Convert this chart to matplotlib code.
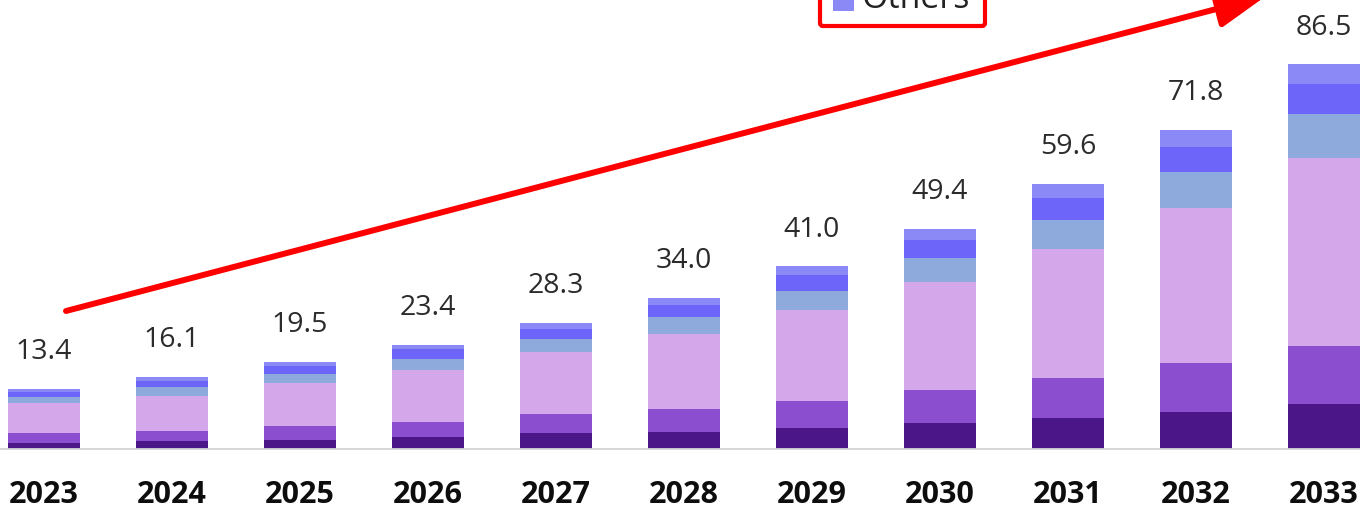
import matplotlib
matplotlib.use("Agg")
import matplotlib.pyplot as plt
from matplotlib.patches import FancyArrowPatch, FancyBboxPatch, Rectangle
import numpy as np

years = ["2023", "2024", "2025", "2026", "2027", "2028",
         "2029", "2030", "2031", "2032", "2033"]
totals = [13.4, 16.1, 19.5, 23.4, 28.3, 34.0, 41.0, 49.4, 59.6, 71.8, 86.5]

# stacked segments, bottom to top
seg_a = [1.3, 1.6, 2.0, 2.5, 3.4, 3.7, 4.7, 5.8, 6.8, 8.3, 10.1]
seg_b = [2.1, 2.3, 3.0, 3.5, 4.4, 5.3, 6.0, 7.3, 9.1, 11.0, 13.0]
seg_c = [6.9, 8.0, 9.8, 11.6, 13.9, 16.7, 20.5, 24.4, 29.0, 34.8, 42.3]
seg_d = [1.3, 1.9, 2.0, 2.5, 2.9, 4.0, 4.3, 5.3, 6.6, 8.1, 9.9]
seg_e = [1.2, 1.5, 1.8, 2.2, 2.4, 2.6, 3.6, 4.1, 4.9, 5.8, 6.7]
others = [0.6, 0.8, 0.9, 1.1, 1.3, 1.7, 1.9, 2.5, 3.2, 3.8, 4.5]

segments = [seg_a, seg_b, seg_c, seg_d, seg_e, others]
colors = ["#4b1687", "#8a4ecf", "#d4a7eb", "#8eaadc", "#6d64fa", "#8b89f6"]

W, H = 1360, 508
fig = plt.figure(figsize=(W / 100, H / 100), dpi=100)
fig.patch.set_facecolor("white")

base_px = 59.5          # baseline height from the bottom of the figure
px_per_unit = 4.44
ax = fig.add_axes([0, base_px / H, 1, 1 - base_px / H])
ax.set_ylim(0, (H - base_px) / px_per_unit)
x = np.arange(len(years))
ax.set_xlim(-44 / 128, (W - 44) / 128)

bottom = np.zeros(len(years))
for vals, col in zip(segments, colors):
    ax.bar(x, vals, width=0.555, bottom=bottom, color=col, linewidth=0, zorder=2)
    bottom += np.array(vals)

for xi, t in zip(x, totals):
    ax.annotate(f"{t:.1f}", xy=(xi, t), xytext=(0, 21.5), textcoords="offset points",
                ha="center", va="baseline", fontsize=20.5, color="#2b2b2b",
                family="Open Sans")

for s in ["top", "left", "right"]:
    ax.spines[s].set_visible(False)
ax.spines["bottom"].set_color("#d4d4d4")
ax.spines["bottom"].set_linewidth(1.3)
ax.set_yticks([])
ax.set_xticks(x)
ax.set_xticklabels(years, fontsize=22, fontweight="bold", family="Open Sans",
                   color="#0d0d0d")
ax.tick_params(axis="x", length=0, pad=23)

# growth arrow
arrow = FancyArrowPatch((66, H - 311), (1266, H + 4), transform=None,
                        arrowstyle="-|>,head_length=3.0,head_width=1.15",
                        mutation_scale=10, color="#ff0000", lw=4.3,
                        shrinkA=0, shrinkB=0, zorder=5)
fig.add_artist(arrow)

# legend entry box
box = FancyBboxPatch((820, H - 26), 165, 60, transform=None,
                     boxstyle="round,pad=0,rounding_size=3",
                     facecolor="white", edgecolor="#ff0000", lw=3.0, zorder=6)
fig.add_artist(box)
sq = Rectangle((833, H - 11), 21, 22, transform=None, facecolor=colors[-1],
               edgecolor="none", zorder=7)
fig.add_artist(sq)
fig.text(862, H - 8, "Others", transform=None, fontsize=24.5, family="Open Sans",
         color="#222222", va="baseline", ha="left", zorder=7)

fig.savefig("out.png", dpi=100, facecolor="white")
